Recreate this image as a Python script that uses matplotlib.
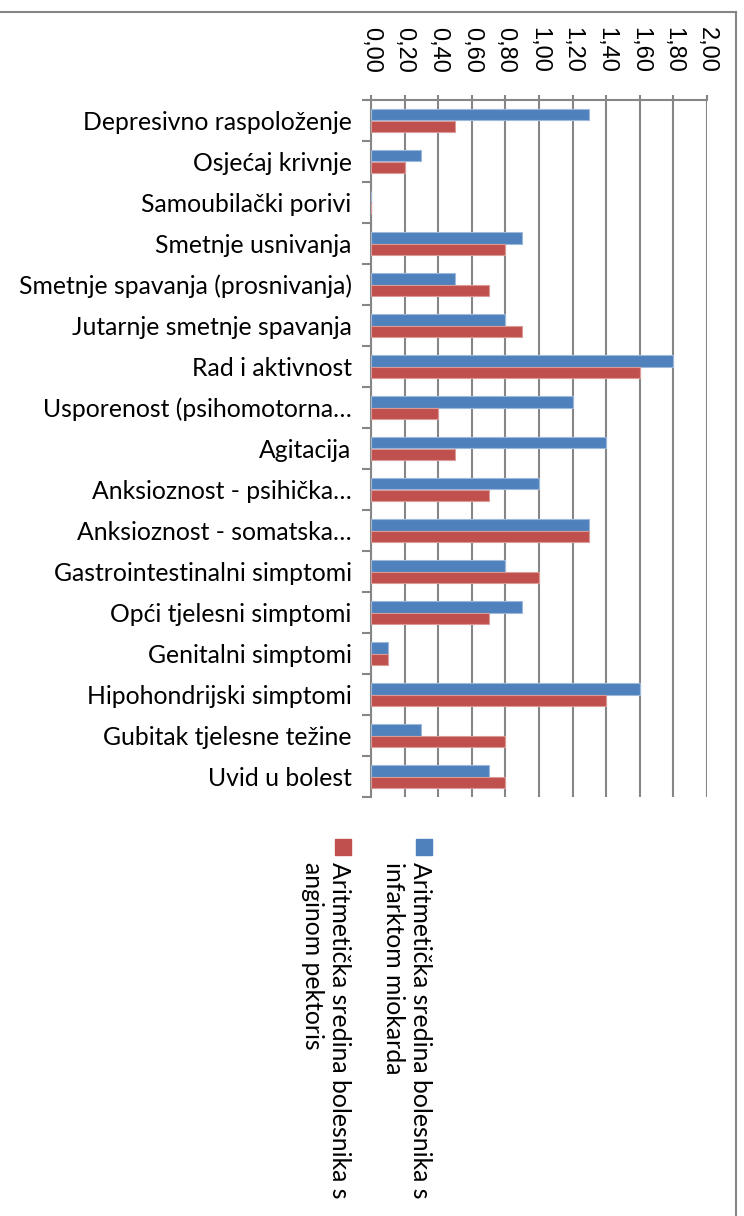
import matplotlib.pyplot as plt
from matplotlib.lines import Line2D
from matplotlib.patches import Rectangle
import numpy as np

# Data (Hamilton scale items, mean scores)
categories = [
    "Depresivno raspoloženje",
    "Osjećaj krivnje",
    "Samoubilački porivi",
    "Smetnje usnivanja",
    "Smetnje spavanja (prosnivanja)",
    "Jutarnje smetnje spavanja",
    "Rad i aktivnost",
    "Usporenost (psihomotorna…",
    "Agitacija",
    "Anksioznost - psihička…",
    "Anksioznost - somatska…",
    "Gastrointestinalni simptomi",
    "Opći tjelesni simptomi",
    "Genitalni simptomi",
    "Hipohondrijski simptomi",
    "Gubitak tjelesne težine",
    "Uvid u bolest",
]
infarkt = [1.30, 0.30, 0.00, 0.90, 0.50, 0.80, 1.80, 1.20, 1.40, 1.00,
           1.30, 0.80, 0.90, 0.10, 1.60, 0.30, 0.70]
angina = [0.50, 0.20, 0.00, 0.80, 0.70, 0.90, 1.60, 0.40, 0.50, 0.70,
          1.30, 1.00, 0.70, 0.10, 1.40, 0.80, 0.80]
series_names = ["Aritmetička sredina bolesnika s\ninfarktom miokarda",
                "Aritmetička sredina bolesnika s\nanginom pektoris"]
x_ticks = [0.0, 0.2, 0.4, 0.6, 0.8, 1.0, 1.2, 1.4, 1.6, 1.8, 2.0]

BLUE = "#4F81BD"
RED = "#C0504D"
GRID = "#868686"
W, H = 744, 1216

fig = plt.figure(figsize=(W / 100, H / 100), dpi=100)
ax = fig.add_axes([371 / W, 1 - 797 / H, (707 - 371) / W, (797 - 100) / H])

y = np.arange(len(categories))
bh = 0.28
ax.barh(y - bh / 2, infarkt, height=bh, color=BLUE, edgecolor="#9DB8DB", linewidth=0.8, zorder=3)
ax.barh(y + bh / 2, angina, height=bh, color=RED, edgecolor="#DA9A98", linewidth=0.8, zorder=3)

ax.set_xlim(0, 2.0)
ax.set_ylim(len(categories) - 0.5, -0.5)
ax.set_xticks(x_ticks)
ax.set_xticklabels([f"{v:.2f}".replace(".", ",") for v in x_ticks],
                   fontfamily="Liberation Sans", fontsize=17)
ax.xaxis.tick_top()
ax.tick_params(axis="x", which="major", top=True, bottom=False, length=3.6,
               width=1.5, color=GRID, pad=16, labelrotation=270)

ax.set_yticks(y)
ax.set_yticklabels(categories, fontfamily="Lato", fontsize=17.8)
ax.set_yticks(np.arange(len(categories) + 1) - 0.5, minor=True)
ax.tick_params(axis="y", which="major", length=0, pad=14)
ax.tick_params(axis="y", which="minor", length=6.5, width=1.5, color=GRID)

ax.grid(axis="x", color=GRID, linewidth=1.5, zorder=0)
ax.set_axisbelow(True)
for s in ["right", "bottom"]:
    ax.spines[s].set_visible(False)
for s in ["top", "left"]:
    ax.spines[s].set_color(GRID)
    ax.spines[s].set_linewidth(1.5)

# legend drawn by hand, rotated like the original
for cx, tx, col, name in [(424, 407, BLUE, series_names[0]),
                          (343, 326, RED, series_names[1])]:
    fig.add_artist(Rectangle(((cx - 8) / W, 1 - 855 / H), 16 / W, 16 / H,
                             transform=fig.transFigure, color=col))
    fig.text(tx / W, 1 - 862 / H, name, rotation=270, ha="center", va="top",
             multialignment="left", fontfamily="Lato", fontsize=17.8, linespacing=1.25)

# outer frame (top and right edges only)
fig.add_artist(Line2D([0, 736 / W], [1 - 12 / H, 1 - 12 / H], color=GRID, lw=1.5,
                      transform=fig.transFigure))
fig.add_artist(Line2D([736 / W, 736 / W], [0, 1 - 12 / H], color=GRID, lw=1.5,
                      transform=fig.transFigure))

fig.savefig("out.png", dpi=100)
